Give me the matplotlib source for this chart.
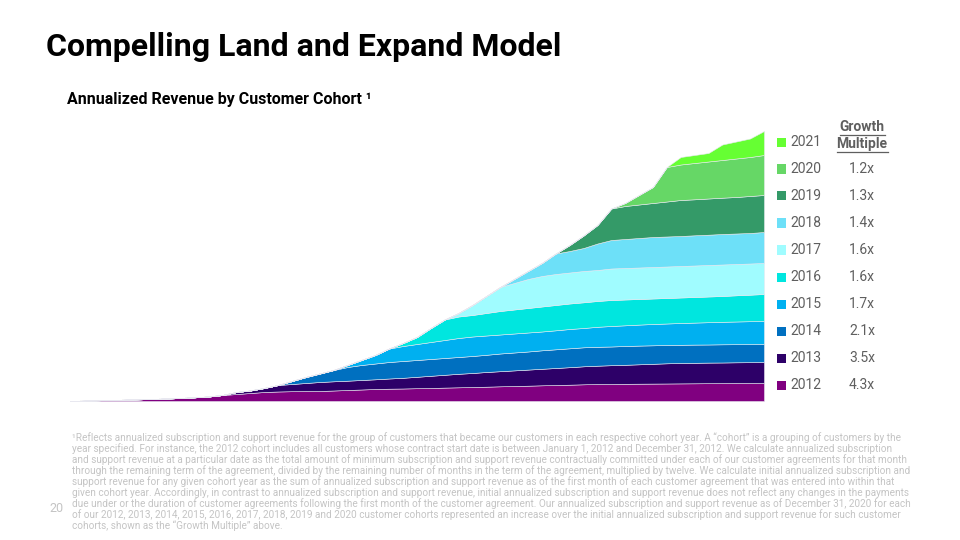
import numpy as np
import matplotlib
matplotlib.use('Agg')
import matplotlib.pyplot as plt
from matplotlib.patches import Rectangle
from matplotlib.lines import Line2D

plt.rcParams['font.family'] = ['Roboto', 'DejaVu Sans']

# Annualized revenue by cohort, quarterly periods (relative units)
n_periods = 51
cohorts = ['2012', '2013', '2014', '2015', '2016', '2017', '2018', '2019', '2020', '2021']
cohort_start = [0, 11, 15, 19, 23, 27, 31, 35, 39, 43]
growth_multiple = ['4.3x', '3.5x', '2.1x', '1.7x', '1.6x', '1.6x', '1.4x', '1.3x', '1.2x', '']
colors = ['#800080', '#2d0068', '#0070c0', '#00b0f0', '#00e6df',
          '#a0fcff', '#6de0f8', '#349a68', '#66d766', '#66ff33']

rev_2012 = [0, 0.3, 0.7, 1, 1.3, 1.7, 2, 2.5, 3, 3.7, 4.5, 6, 7, 8, 9, 9.5, 9.8, 10, 10,
            10.5, 11, 11.5, 12, 12.3, 12.5, 12.8, 13, 13.4, 13.7, 14, 14.3, 14.7, 15, 15.3,
            15.7, 16, 16.3, 16.7, 17, 17, 17.2, 17.3, 17.4, 17.5, 17.6, 17.7, 17.8, 17.9,
            18, 18, 18]
rev_2013 = [0, 2, 2.5, 4, 6.5, 7.2, 8, 9, 9.2, 9.3, 9.5, 9.7, 10.2, 10.7, 11.4, 12.2, 12.8,
            13.5, 14, 14.7, 15.1, 15.6, 16.1, 16.5, 17, 17.5, 18, 18.3, 18.8, 19, 19.4, 19.8,
            20.2, 20.4, 20.5, 20.6, 20.6, 20.7, 20.8, 21]
rev_2014 = [0, 3, 6, 8.5, 11.3, 13.7, 15, 15.8, 16.5, 16.8, 16.8, 16.8, 16.8, 16.8, 17,
            17.2, 17.7, 17.9, 18.1, 18.5, 18.7, 18.9, 19, 18.9, 18.7, 18.8, 18.7, 18.5,
            18.3, 18.2, 18.2, 18.1, 18.2, 18.1, 18.1, 18]
rev_2015 = [0, 2, 5, 8.5, 13.5, 15, 16, 17, 18, 19, 19.5, 19.3, 19, 19, 19, 18.8, 19, 19.3,
            19.3, 20, 20.5, 20.7, 21, 21.3, 21.5, 21.8, 22, 22.3, 22.5, 22.7, 22.9, 23]
rev_2016 = [0, 3, 7, 14, 20.5, 21.5, 21.5, 22.5, 23.5, 24, 24.5, 25, 25.3, 25.5, 25.7,
            25.8, 26, 25.8, 25.6, 25.5, 25.5, 25.5, 25.6, 25.7, 25.8, 26.2, 26.5, 27]
rev_2017 = [0, 3.5, 10, 17, 24, 26.5, 29, 30.5, 31, 31, 31.3, 31, 31.5, 31.5, 31.5, 31.5,
            31.5, 31.5, 31.5, 31.5, 31.5, 31.3, 31.2, 31]
rev_2018 = [0, 4, 8, 13, 20.5, 21.5, 23, 26.5, 28.5, 29, 29.5, 30, 30, 30, 30.2, 30.3,
            30.5, 30.5, 30.5, 31]
rev_2019 = [0, 6, 12.5, 18.5, 31.5, 33, 33.5, 34, 35, 36, 36, 36.2, 36.3, 36.5, 37, 37]
rev_2020 = [0, 3, 9.5, 16, 34.5, 35.5, 36.3, 37, 37.7, 38.5, 39, 40]
rev_2021 = [0, 7.5, 8, 8.5, 15.5, 17, 18.5, 24]

series = [rev_2012, rev_2013, rev_2014, rev_2015, rev_2016,
          rev_2017, rev_2018, rev_2019, rev_2020, rev_2021]
stack = np.array([np.concatenate([np.zeros(s), v]) for s, v in zip(cohort_start, series)])
periods = np.arange(n_periods)

footnote = [
    "¹Reflects annualized subscription and support revenue for the group of customers that became our customers in each respective cohort year. A “cohort” is a grouping of customers by the",
    "year specified. For instance, the 2012 cohort includes all customers whose contract start date is between January 1, 2012 and December 31, 2012. We calculate annualized subscription",
    "and support revenue at a particular date as the total amount of minimum subscription and support revenue contractually committed under each of our customer agreements for that month",
    "through the remaining term of the agreement, divided by the remaining number of months in the term of the agreement, multiplied by twelve. We calculate initial annualized subscription and",
    "support revenue for any given cohort year as the sum of annualized subscription and support revenue as of the first month of each customer agreement that was entered into within that",
    "given cohort year. Accordingly, in contrast to annualized subscription and support revenue, initial annualized subscription and support revenue does not reflect any changes in the payments",
    "due under or the duration of customer agreements following the first month of the customer agreement. Our annualized subscription and support revenue as of December 31, 2020 for each",
    "of our 2012, 2013, 2014, 2015, 2016, 2017, 2018, 2019 and 2020 customer cohorts represented an increase over the initial annualized subscription and support revenue for such customer",
    "cohorts, shown as the “Growth Multiple” above.",
]

W, H = 960, 540
fig = plt.figure(figsize=(9.6, 5.4), dpi=100)


def px(x, y):
    return x / W, 1 - y / H


ax = fig.add_axes([70 / W, 139 / H, 694 / W, 270 / H])
ax.stackplot(periods, stack, colors=colors, edgecolor='#e8e8f0', linewidth=0.4)
ax.set_xlim(0, n_periods - 1)
ax.set_ylim(0, 270)
ax.axis('off')

fig.text(*px(46, 47), 'Compelling Land and Expand Model', fontsize=23,
         fontweight='bold', ha='left', va='center', color='black')
fig.text(*px(67, 100), 'Annualized Revenue by Customer Cohort ¹', fontsize=11.5,
         fontweight='bold', ha='left', va='center', color='black')

# legend with growth multiples
gray = '#5f5f5f'
for i, (name, col, gm) in enumerate(zip(cohorts, colors, growth_multiple)):
    y = 385 - 27 * i
    x0, y0 = px(777, y + 4.5)
    fig.patches.append(Rectangle((x0, y0), 9 / W, 9 / H, transform=fig.transFigure,
                                 facecolor=col, edgecolor='none'))
    fig.text(*px(790, y), name, fontsize=10, color=gray, ha='left', va='center')
    if gm:
        fig.text(*px(862, y), gm, fontsize=10, color=gray, ha='center', va='center')

fig.text(*px(862, 127), 'Growth', fontsize=10, fontweight='bold', color=gray,
         ha='center', va='center')
fig.text(*px(862, 144), 'Multiple', fontsize=10, fontweight='bold', color=gray,
         ha='center', va='center')
for yy, xa, xb in [(134.5, 840, 885), (151.5, 837, 888)]:
    fig.add_artist(Line2D([xa / W, xb / W], [1 - yy / H, 1 - yy / H],
                          transform=fig.transFigure, color=gray, linewidth=0.9))

# footnote: size the font so the longest line spans the same width as in the slide
fn_color = '#c4c4c4'
fn_texts = [fig.text(*px(72, 438 + 11 * i), line, fontsize=7, color=fn_color,
                     ha='left', va='center') for i, line in enumerate(footnote)]
renderer = fig.canvas.get_renderer()
widest = max(t.get_window_extent(renderer).width for t in fn_texts)
for t in fn_texts:
    t.set_fontsize(7 * 833 / widest)
fig.text(*px(57, 508), '20', fontsize=9, color=fn_color, ha='center', va='center')

fig.savefig('out.png', dpi=100, facecolor='white')
